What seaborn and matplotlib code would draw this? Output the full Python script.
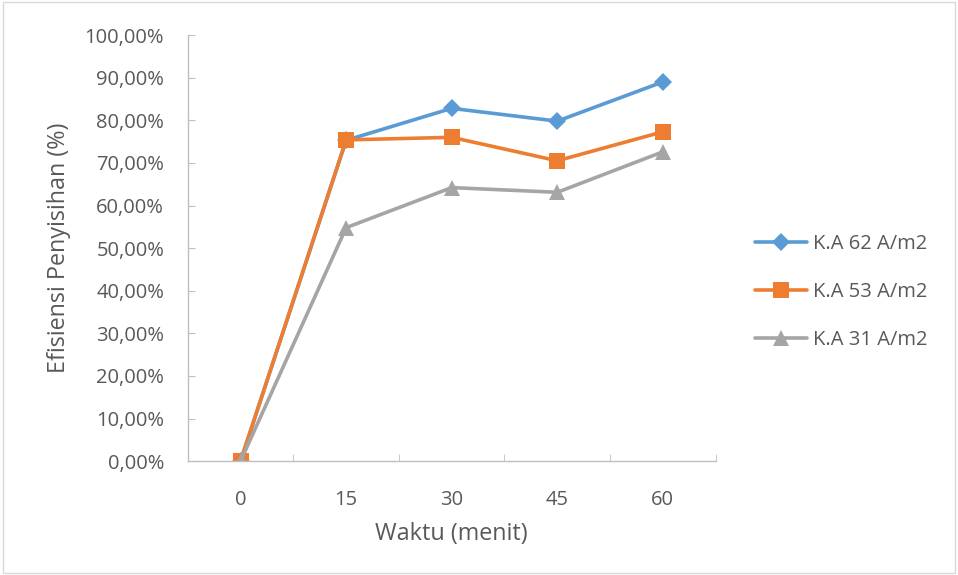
import pandas as pd
import seaborn as sns
import matplotlib.pyplot as plt
from matplotlib.ticker import FuncFormatter

# data
waktu = [0, 15, 30, 45, 60]
ka62 = [0.0, 75.3, 82.8, 79.8, 89.0]
ka53 = [0.0, 75.4, 76.0, 70.5, 77.3]
ka31 = [0.0, 54.8, 64.2, 63.1, 72.6]
series_names = ['K.A 62 A/m2', 'K.A 53 A/m2', 'K.A 31 A/m2']

rows = []
for name, vals in zip(series_names, [ka62, ka53, ka31]):
    for i, (w, v) in enumerate(zip(waktu, vals)):
        rows.append({'pos': i, 'Waktu': w, 'Efisiensi': v, 'Seri': name})
df = pd.DataFrame(rows)

sns.set_style('white')
plt.rcParams['font.family'] = ['Open Sans', 'DejaVu Sans']
txt = '#595959'
grey_ax = '#BFBFBF'

fig = plt.figure(figsize=(9.58, 5.75), dpi=100)
ax = fig.add_axes([0.196, 0.198, 0.551, 0.741])

palette = {'K.A 62 A/m2': '#5B9BD5', 'K.A 53 A/m2': '#ED7D31', 'K.A 31 A/m2': '#A5A5A5'}
markers = {'K.A 62 A/m2': 'D', 'K.A 53 A/m2': 's', 'K.A 31 A/m2': '^'}
msize = {'K.A 62 A/m2': 9.5, 'K.A 53 A/m2': 12, 'K.A 31 A/m2': 11.5}
# blue first, then orange, gray last (gray triangle sits on top at 0)
for name in series_names:
    sub = df[df['Seri'] == name]
    sns.lineplot(data=sub, x='pos', y='Efisiensi', ax=ax, color=palette[name],
                 marker=markers[name], markersize=msize[name],
                 markeredgewidth=0, linewidth=2.6, label=name)

ax.set_xlim(-0.5, 4.5)
ax.set_ylim(0, 100)
ax.set_yticks(range(0, 101, 10))
ax.yaxis.set_major_formatter(FuncFormatter(lambda v, p: f'{v:.2f}%'.replace('.', ',')))
ax.set_xticks(range(5))
ax.set_xticklabels([str(w) for w in waktu])
ax.set_xticks([i - 0.5 for i in range(6)], minor=True)

for s in ['top', 'right']:
    ax.spines[s].set_visible(False)
for s in ['left', 'bottom']:
    ax.spines[s].set_color(grey_ax)
    ax.spines[s].set_linewidth(1)

ax.tick_params(axis='y', which='major', left=True, direction='in', length=5, color=grey_ax,
               labelsize=14.5, labelcolor=txt, pad=17)
ax.tick_params(axis='x', which='major', bottom=False, labelsize=14.5, labelcolor=txt, pad=17)
ax.tick_params(axis='x', which='minor', bottom=True, direction='in', length=5, color=grey_ax)

ax.set_xlabel('Waktu (menit)', fontsize=16.8, color=txt, labelpad=9)
ax.set_ylabel('Efisiensi Penyisihan (%)', fontsize=16.8, color=txt, labelpad=10)

leg = ax.legend(loc='center left', bbox_to_anchor=(1.074, 0.397), frameon=False,
                fontsize=14.5, labelcolor=txt, handlelength=2.6, labelspacing=1.4,
                handletextpad=0.3, borderpad=0, borderaxespad=0)

fig.patches.append(plt.Rectangle((0.003, 0.004), 0.994, 0.992, transform=fig.transFigure,
                                 fill=False, edgecolor='#D9D9D9', linewidth=1))

fig.savefig('out.png', dpi=100)
